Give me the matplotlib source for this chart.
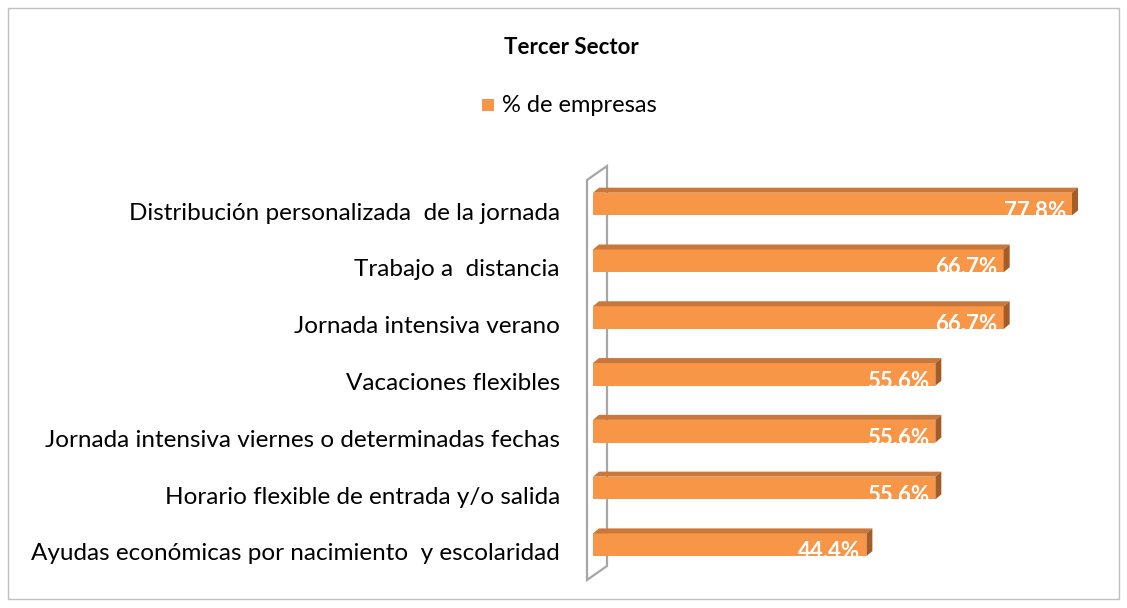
import matplotlib
matplotlib.use("Agg")
import matplotlib.pyplot as plt
from matplotlib.patches import Polygon, Rectangle

categories = [
    "Distribución personalizada  de la jornada",
    "Trabajo a  distancia",
    "Jornada intensiva verano",
    "Vacaciones flexibles",
    "Jornada intensiva viernes o determinadas fechas",
    "Horario flexible de entrada y/o salida",
    "Ayudas económicas por nacimiento  y escolaridad",
]
values = [77.8, 66.7, 66.7, 55.6, 55.6, 55.6, 44.4]
valueLabels = ["77,8%", "66,7%", "66,7%", "55,6%", "55,6%", "55,6%", "44,4%"]
seriesName = "% de empresas"
title = "Tercer Sector"

FRONT = "#F79646"
TOP = "#C9773A"
SIDE = "#A45D28"
FONT = ["Lato", "DejaVu Sans"]

W, H = 1127, 608
fig = plt.figure(figsize=(W / 100, H / 100), dpi=100)

# axis placement in pixels: value 0 at x=593, 6.157 px per percent
x0px, pxPerUnit = 593, 6.157
xmax = 82
yTop, yBot = 166, 580
ax = fig.add_axes([x0px / W, 1 - yBot / H, xmax * pxPerUnit / W, (yBot - yTop) / H])
ax.set_xlim(0, xmax)
ax.set_ylim(6.62, -0.67)
ax.axis("off")

barH = 0.40
dx = 6 / pxPerUnit          # depth offset in data units
dy = -5 / 56.8              # depth offset (up) in rows

ypos = list(range(len(values)))
ax.barh(ypos, values, height=barH, color=FRONT, zorder=3)

for y, v, lab in zip(ypos, values, valueLabels):
    top = y - barH / 2
    bot = y + barH / 2
    # top face
    ax.add_patch(Polygon([(0, top), (dx, top + dy), (v + dx, top + dy), (v, top)],
                         closed=True, facecolor=TOP, edgecolor="none", zorder=3))
    # side face
    ax.add_patch(Polygon([(v, top), (v + dx, top + dy), (v + dx, bot + dy), (v, bot)],
                         closed=True, facecolor=SIDE, edgecolor="none", zorder=3))
    ax.text(v - 1.0, y + 0.12, lab, ha="right", va="center", color="white",
            fontsize=16, fontweight="bold", family=FONT, zorder=4, clip_on=False)

# back wall (perspective panel)
wl = -6 / pxPerUnit
wr = 14 / pxPerUnit
ylo, yhi = ax.get_ylim()
wall = Polygon([(wl, ylo), (wl, yhi + 14 / 56.8), (wr, yhi), (wr, ylo - 14 / 56.8)],
               closed=True, facecolor="white", edgecolor="#A6A6A6", lw=1.6,
               zorder=1, clip_on=False)
ax.add_patch(wall)

# category labels
for y, c in zip(ypos, categories):
    ax.text(-33 / pxPerUnit, y + 0.16, c, ha="right", va="center", fontsize=17.5,
            family=FONT, color="#000000", clip_on=False)

fig.text(571 / W, 1 - 47 / H, title, ha="center", va="center", fontsize=16,
         fontweight="bold", family=FONT)
fig.patches.append(Rectangle((482 / W, 1 - 111 / H), 12 / W, 12 / H,
                             transform=fig.transFigure, facecolor=FRONT, edgecolor="none"))
fig.text(502 / W, 1 - 106 / H, seriesName, ha="left", va="center", fontsize=17, family=FONT)

# outer frame
fig.patches.append(Rectangle((8 / W, 1 - 599 / H), 1111 / W, 591 / H,
                             transform=fig.transFigure, facecolor="none",
                             edgecolor="#BFBFBF", lw=1))

fig.savefig("out.png", dpi=100)
